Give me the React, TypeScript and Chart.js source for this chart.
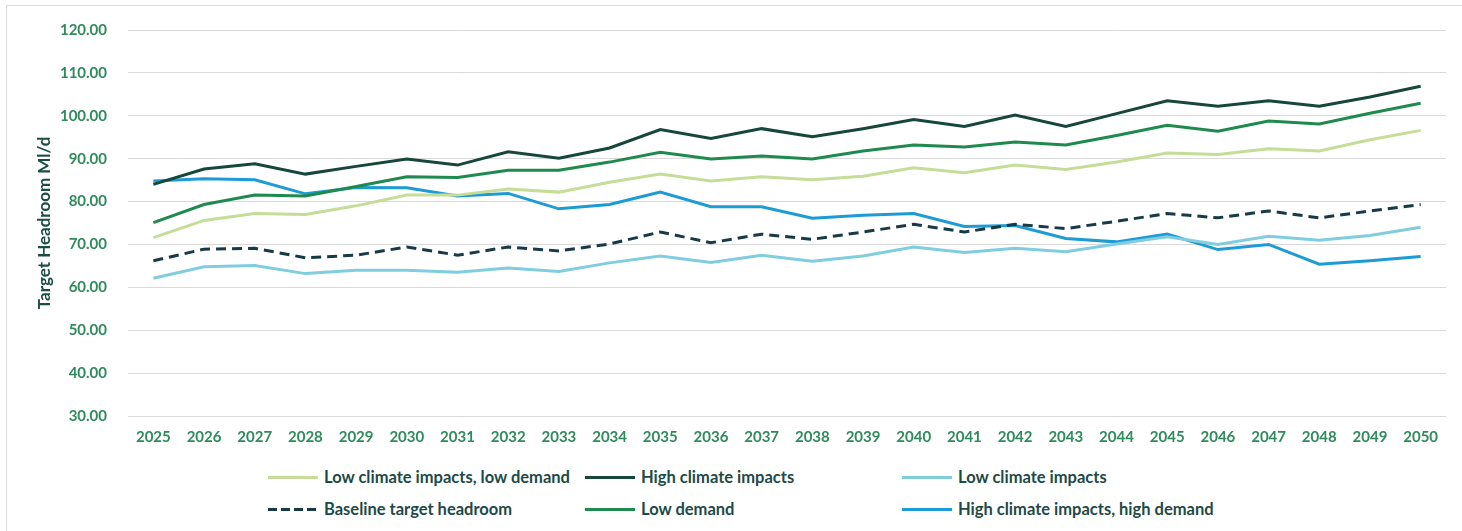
import React, { useEffect, useRef } from "react";
import { Chart, registerables } from "chart.js";

Chart.register(...registerables);

const years = ["2025","2026","2027","2028","2029","2030","2031","2032","2033","2034","2035","2036","2037","2038","2039","2040","2041","2042","2043","2044","2045","2046","2047","2048","2049","2050"];

const lowClimateLowDemand = [71.6, 75.6, 77.2, 77.0, 79.0, 81.5, 81.5, 82.9, 82.2, 84.5, 86.4, 84.8, 85.8, 85.1, 85.9, 87.9, 86.7, 88.5, 87.5, 89.2, 91.3, 91.0, 92.3, 91.8, 94.4, 96.6];
const highClimate = [84.0, 87.6, 88.8, 86.4, 88.2, 89.9, 88.5, 91.6, 90.1, 92.5, 96.8, 94.7, 97.0, 95.1, 97.0, 99.1, 97.5, 100.2, 97.5, 100.5, 103.5, 102.2, 103.5, 102.2, 104.4, 106.9];
const lowClimate = [62.1, 64.8, 65.1, 63.2, 64.0, 64.0, 63.5, 64.5, 63.7, 65.7, 67.3, 65.8, 67.5, 66.1, 67.3, 69.4, 68.1, 69.1, 68.3, 70.1, 71.8, 70.0, 71.9, 71.0, 72.1, 74.0];
const baseline = [66.2, 68.9, 69.1, 66.9, 67.5, 69.4, 67.5, 69.4, 68.5, 70.1, 72.9, 70.4, 72.4, 71.2, 72.9, 74.7, 72.9, 74.7, 73.7, 75.4, 77.2, 76.2, 77.8, 76.2, 77.8, 79.3];
const lowDemand = [75.1, 79.3, 81.5, 81.3, 83.5, 85.8, 85.6, 87.3, 87.3, 89.2, 91.5, 89.9, 90.6, 89.9, 91.8, 93.2, 92.7, 93.9, 93.2, 95.4, 97.8, 96.4, 98.8, 98.1, 100.6, 102.9];
const highClimateHighDemand = [84.8, 85.3, 85.1, 81.8, 83.3, 83.2, 81.3, 81.9, 78.3, 79.3, 82.2, 78.8, 78.8, 76.1, 76.8, 77.2, 74.2, 74.4, 71.4, 70.6, 72.4, 68.8, 70.0, 65.4, 66.2, 67.2];

const seriesLabels = [
  "Low climate impacts, low demand",
  "High climate impacts",
  "Low climate impacts",
  "Baseline target headroom",
  "Low demand",
  "High climate impacts, high demand",
];
const seriesData = [lowClimateLowDemand, highClimate, lowClimate, baseline, lowDemand, highClimateHighDemand];
const seriesColors = ["#c5dd97", "#16473b", "#80cde0", "#173a48", "#1e8a4e", "#1c9bd5"];
const seriesDashed = [false, false, false, true, false, false];

const yMin = 30;
const yMax = 120;
const yStep = 10;

const FONT = "Lato, 'Open Sans', sans-serif";

export default function App() {
  const canvasRef = useRef<HTMLCanvasElement | null>(null);

  useEffect(() => {
    if (!canvasRef.current) return;
    const chart = new Chart(canvasRef.current, {
      type: "line",
      data: {
        labels: years,
        datasets: seriesLabels.map((label, i) => ({
          label,
          data: seriesData[i],
          borderColor: seriesColors[i],
          backgroundColor: seriesColors[i],
          borderWidth: 3,
          borderDash: seriesDashed[i] ? [10, 6] : [],
          pointRadius: 0,
          pointHoverRadius: 0,
          tension: 0,
          fill: false,
        })),
      },
      options: {
        animation: false,
        responsive: false,
        maintainAspectRatio: false,
        layout: { padding: { left: 0, top: 26, right: 16, bottom: 0 } },
        plugins: {
          legend: { display: false },
          tooltip: { enabled: false },
        },
        scales: {
          x: {
            type: "category",
            offset: true,
            grid: { display: false, drawTicks: false },
            border: { display: false },
            ticks: {
              padding: 12,
              color: "#2f8a5c",
              font: { family: FONT, size: 15, weight: "bold" },
              maxRotation: 0,
              autoSkip: false,
            },
            afterFit: (s: any) => {
              s.height = 44;
            },
          },
          y: {
            min: yMin,
            max: yMax,
            grid: { color: "#d9d9d9", lineWidth: 1, drawTicks: false },
            border: { display: false },
            ticks: {
              stepSize: yStep,
              padding: 21,
              color: "#2f8a5c",
              font: { family: FONT, size: 15, weight: "bold" },
              callback: (v: any) => Number(v).toFixed(2),
            },
            title: {
              display: true,
              text: "Target Headroom Ml/d",
              color: "#1c4d43",
              font: { family: FONT, size: 17, weight: "bold" },
              padding: { top: 34, bottom: 0 },
            },
            afterFit: (s: any) => {
              s.width = 128;
            },
          },
        },
      },
    });
    return () => chart.destroy();
  }, []);

  const cols = [268, 585, 902];
  const rows = [477, 509];

  return (
    <div style={{ position: "absolute", left: 0, top: 0, width: 1462, height: 531, overflow: "hidden", background: "#ffffff" }}>
      <div style={{ position: "absolute", left: 6, top: 5, width: 1470, height: 540, border: "1px solid #dcdcdc", boxSizing: "border-box" }} />
      <canvas ref={canvasRef} width={1462} height={460} style={{ position: "absolute", left: 0, top: 0, width: 1462, height: 460 }} />
      {seriesLabels.map((label, i) => {
        const col = i % 3;
        const row = Math.floor(i / 3);
        const color = seriesColors[i];
        return (
          <div
            key={label}
            style={{
              position: "absolute",
              left: cols[col],
              top: rows[row] - 12,
              height: 24,
              display: "flex",
              alignItems: "center",
              whiteSpace: "nowrap",
            }}
          >
            <div
              style={{
                width: 50,
                height: 3,
                marginRight: 6,
                background: seriesDashed[i]
                  ? `repeating-linear-gradient(to right, ${color} 0px, ${color} 9px, transparent 9px, transparent 13px)`
                  : color,
              }}
            />
            <span style={{ fontFamily: FONT, fontSize: 16.5, fontWeight: 700, color: "#1d4a47" }}>{label}</span>
          </div>
        );
      })}
    </div>
  );
}
